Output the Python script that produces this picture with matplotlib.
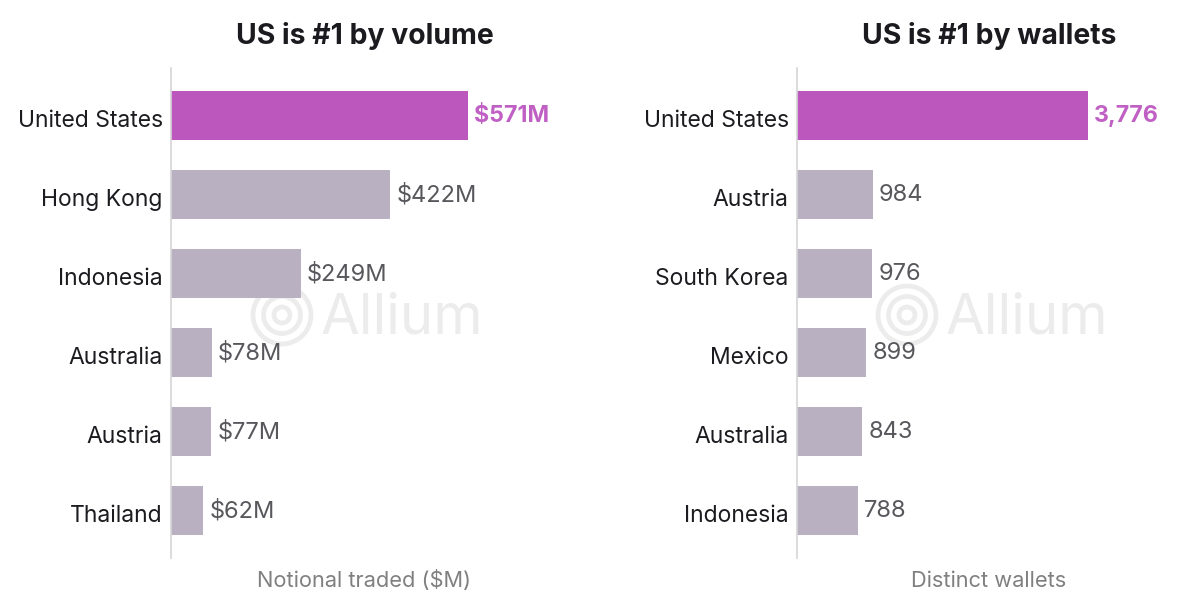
import matplotlib.pyplot as plt
from matplotlib.patches import Circle
from matplotlib.transforms import offset_copy

plt.rcParams['font.family'] = ['Inter', 'DejaVu Sans']

volume_countries = ['United States', 'Hong Kong', 'Indonesia', 'Australia', 'Austria', 'Thailand']
volume_values = [571, 422, 249, 78, 77, 62]
volume_labels = ['$571M', '$422M', '$249M', '$78M', '$77M', '$62M']

wallet_countries = ['United States', 'Austria', 'South Korea', 'Mexico', 'Australia', 'Indonesia']
wallet_values = [3776, 984, 976, 899, 843, 788]
wallet_labels = ['3,776', '984', '976', '899', '843', '788']

W, H = 1199, 611
PURPLE = '#bc58bd'
PURPLE_TEXT = '#c060c4'
GREY_BAR = '#b9b1c2'
MARK = '#ececec'

fig = plt.figure(figsize=(W / 100, H / 100), dpi=100, facecolor='white')

# backdrop in pixel coordinates, holds the logo and the free-standing text
bg = fig.add_axes([0, 0, 1, 1], zorder=-1)
bg.set_xlim(0, W)
bg.set_ylim(H, 0)
bg.axis('off')


def watermark(cx, cy):
    for r in (29, 18.5, 8):
        bg.add_patch(Circle((cx, cy), r, fill=False, ec=MARK, lw=3.4))
    bg.text(cx + 39, cy + 3, 'Allium', fontsize=40.5, color=MARK, va='center', ha='left')


def bar_panel(left, px_per_unit, countries, values, labels, title, title_x, xlabel, xlabel_x):
    width = 400
    ax = fig.add_axes([left / W, (H - 558) / H, width / W, 490 / H], facecolor='none')
    colors = [PURPLE] + [GREY_BAR] * (len(values) - 1)
    ax.barh(range(len(values)), values, height=0.62, color=colors)
    ax.set_xlim(0, width / px_per_unit)
    ax.set_ylim(5.6, -0.6)

    ax.set_yticks(range(len(countries)))
    ax.set_yticklabels(countries, fontsize=16.5, color='#1c1c20')
    ax.tick_params(axis='y', length=0, pad=6)
    ax.set_xticks([])
    for lab in ax.get_yticklabels():
        lab.set_transform(offset_copy(lab.get_transform(), fig=fig, y=-3 * 0.72, units='points'))
    for side in ('top', 'right', 'bottom'):
        ax.spines[side].set_visible(False)
    ax.spines['left'].set_color('#d6d6d6')
    ax.spines['left'].set_linewidth(1.2)

    for i, (v, lab) in enumerate(zip(values, labels)):
        first = i == 0
        ax.annotate(lab, (v, i), xytext=(4.5, -0.5), textcoords='offset points', va='center',
                    fontsize=16.7 if first else 17, color=PURPLE_TEXT if first else '#57575c',
                    fontweight='bold' if first else 'normal')

    bg.text(title_x, 36, title, fontsize=20.4, fontweight='bold', color='#1b1b1f', ha='center', va='center')
    bg.text(xlabel_x, 581, xlabel, fontsize=15.7, color='#808080', ha='center', va='center')


watermark(282, 315)
watermark(907, 315)

bar_panel(171, 297 / 571, volume_countries, volume_values, volume_labels,
          'US is #1 by volume', 364.5, 'Notional traded ($M)', 364)
bar_panel(797, 291 / 3776, wallet_countries, wallet_values, wallet_labels,
          'US is #1 by wallets', 989, 'Distinct wallets', 989)

fig.savefig('out.png', dpi=100, facecolor='white')
plt.close(fig)
